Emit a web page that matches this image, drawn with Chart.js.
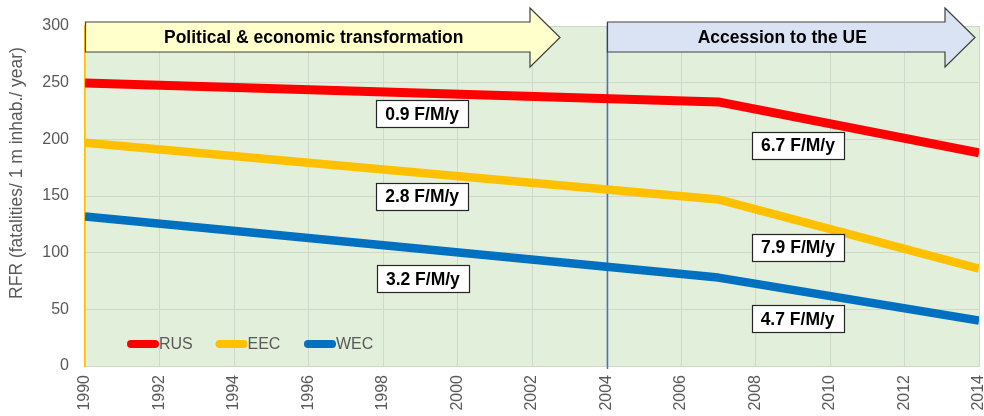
<!DOCTYPE html>
<html>
<head>
<meta charset="utf-8">
<script src="https://cdn.jsdelivr.net/npm/chart.js@4.4.1/dist/chart.umd.min.js"></script>
<style>
  html, body { margin: 0; padding: 0; background: #ffffff; }
  #wrap { width: 984px; height: 416px; position: relative; }
</style>
</head>
<body>
<div id="wrap"><canvas id="c" width="984" height="416"></canvas></div>
<script>
// ---- data ----
const years = [1990, 2007, 2014];
const rusValues = [249.7, 233, 188];
const eecValues = [197, 147, 86];
const wecValues = [132, 78, 40];
const seriesNames = ['RUS', 'EEC', 'WEC'];
const xTicks = [1990, 1992, 1994, 1996, 1998, 2000, 2002, 2004, 2006, 2008, 2010, 2012, 2014];
const yTicks = [0, 50, 100, 150, 200, 250, 300];
const rateLabels = ['0.9 F/M/y', '2.8 F/M/y', '3.2 F/M/y', '6.7 F/M/y', '7.9 F/M/y', '4.7 F/M/y'];
const periodLabels = ['Political & economic transformation', 'Accession to the UE'];
const periodYears = [1990, 2004, 2014];
const yTitle = 'RFR (fatalities/ 1 m inhab./ year)';

const FONT = "'Liberation Sans', Arial, sans-serif";
const GRAY = '#595959';
const colors = ['#ff0000', '#ffc000', '#0070c0'];
const widths = [9, 8.5, 8.5];

function pts(vals) { return years.map((y, i) => ({ x: y, y: vals[i] })); }

// label anchors (layout only): [year, value]
const labelAnchors = [
  [1999.05, 222.4], [1999.05, 150], [1999.07, 76.8],
  [2009.14, 195], [2009.14, 105], [2009.13, 41.5]
];

const overlay = {
  id: 'overlay',
  beforeDraw(chart) {
    const { ctx, chartArea: a } = chart;
    ctx.save();
    ctx.fillStyle = '#e2efda';
    ctx.fillRect(a.left, a.top, a.right - a.left, a.bottom - a.top);
    ctx.restore();
  },
  beforeDatasetsDraw(chart) {
    const { ctx, chartArea: a, scales: { x } } = chart;
    ctx.save();
    ctx.strokeStyle = '#4472c4';
    ctx.lineWidth = 1.5;
    const px = Math.round(x.getPixelForValue(periodYears[1])) + 0.5;
    ctx.beginPath();
    ctx.moveTo(px, a.top - 3);
    ctx.lineTo(px, a.bottom + 3);
    ctx.stroke();
    ctx.restore();
  },
  afterDatasetsDraw(chart) {
    const { ctx, chartArea: a, scales: { x, y } } = chart;
    ctx.save();
    // arrows
    function arrow(x0, headBase, tip, fill, text) {
      const bt = a.top - 4, bb = a.top + 26, ht = a.top - 18, hb = a.top + 41, cy = a.top + 11.5;
      ctx.beginPath();
      ctx.moveTo(x0, bt);
      ctx.lineTo(headBase, bt);
      ctx.lineTo(headBase, ht);
      ctx.lineTo(tip, cy);
      ctx.lineTo(headBase, hb);
      ctx.lineTo(headBase, bb);
      ctx.lineTo(x0, bb);
      ctx.closePath();
      ctx.fillStyle = fill;
      ctx.fill();
      ctx.strokeStyle = '#404040';
      ctx.lineWidth = 1.2;
      ctx.stroke();
      ctx.fillStyle = '#000';
      ctx.font = 'bold 17.5px ' + FONT;
      ctx.textAlign = 'center';
      ctx.textBaseline = 'middle';
      ctx.fillText(text, (x0 + headBase) / 2 + 6, cy + 1);
    }
    const x1990 = x.getPixelForValue(periodYears[0]);
    const x2004 = Math.round(x.getPixelForValue(periodYears[1])) + 0.5;
    const x2014 = x.getPixelForValue(periodYears[2]);
    arrow(x1990 + 0.5, x.getPixelForValue(2002) - 2, x.getPixelForValue(2002) + 28, '#ffffcc', periodLabels[0]);
    arrow(x2004, x2014 - 34, x2014 - 4, '#dae3f3', periodLabels[1]);

    // rate labels
    ctx.font = 'bold 17.5px ' + FONT;
    ctx.textAlign = 'center';
    ctx.textBaseline = 'middle';
    rateLabels.forEach((t, i) => {
      const cx = x.getPixelForValue(labelAnchors[i][0]);
      const cy = y.getPixelForValue(labelAnchors[i][1]);
      const w = 92, h = 27;
      ctx.fillStyle = '#ffffff';
      ctx.fillRect(Math.round(cx - w / 2) + 0.5, Math.round(cy - h / 2) + 0.5, w, h);
      ctx.strokeStyle = '#262626';
      ctx.lineWidth = 1.2;
      ctx.strokeRect(Math.round(cx - w / 2) + 0.5, Math.round(cy - h / 2) + 0.5, w, h);
      ctx.fillStyle = '#000';
      ctx.fillText(t, cx, cy + 1);
    });

    // legend (inside plot, bottom-left)
    const ly = a.bottom - 22;
    let lx = a.left + 46;
    ctx.font = '16px ' + FONT;
    ctx.textAlign = 'left';
    ctx.textBaseline = 'middle';
    chart.data.datasets.forEach((ds, i) => {
      ctx.strokeStyle = ds.borderColor;
      ctx.lineWidth = 8;
      ctx.lineCap = 'round';
      ctx.beginPath();
      ctx.moveTo(lx, ly);
      ctx.lineTo(lx + 24, ly);
      ctx.stroke();
      ctx.fillStyle = GRAY;
      ctx.fillText(ds.label, lx + 28, ly + 1);
      lx += 88.5;
    });

    // y axis title
    ctx.save();
    ctx.translate(17, 173);
    ctx.rotate(-Math.PI / 2);
    ctx.font = '17.5px ' + FONT;
    ctx.fillStyle = GRAY;
    ctx.textAlign = 'center';
    ctx.textBaseline = 'middle';
    ctx.fillText(yTitle, 0, 0);
    ctx.restore();
    ctx.restore();
  }
};

new Chart(document.getElementById('c'), {
  type: 'line',
  data: {
    datasets: [rusValues, eecValues, wecValues].map((v, i) => ({
      label: seriesNames[i],
      data: pts(v),
      borderColor: colors[i],
      backgroundColor: colors[i],
      borderWidth: widths[i],
      pointRadius: 0,
      tension: 0,
      borderJoinStyle: 'round',
      clip: 0
    }))
  },
  options: {
    responsive: false,
    animation: false,
    events: [],
    layout: { padding: { top: 26, right: 5, bottom: 0, left: 0 } },
    plugins: { legend: { display: false }, tooltip: { enabled: false } },
    scales: {
      x: {
        type: 'linear',
        min: xTicks[0],
        max: xTicks[xTicks.length - 1],
        afterBuildTicks(s) { s.ticks = xTicks.map(v => ({ value: v })); },
        afterFit(s) { s.height = 50; s.paddingLeft = 0; s.paddingRight = 0; },
        ticks: {
          color: GRAY,
          font: { family: FONT, size: 16 },
          maxRotation: 90, minRotation: 90,
          padding: 9,
          autoSkip: false,
          callback: v => String(v)
        },
        grid: { color: '#cfd8c9', drawTicks: false, lineWidth: 1 },
        border: { display: true, color: '#cfd8c9' }
      },
      y: {
        min: 0, max: 300,
        afterBuildTicks(s) { s.ticks = yTicks.map(v => ({ value: v })); },
        afterFit(s) { s.width = 85; s.paddingTop = 0; s.paddingBottom = 0; },
        ticks: {
          color: GRAY,
          font: { family: FONT, size: 16 },
          padding: 16
        },
        grid: { color: '#cfd8c9', drawTicks: false, lineWidth: 1 },
        border: { display: true, color: '#ffc000', width: 1.5 }
      }
    }
  },
  plugins: [overlay]
});
</script>
</body>
</html>
